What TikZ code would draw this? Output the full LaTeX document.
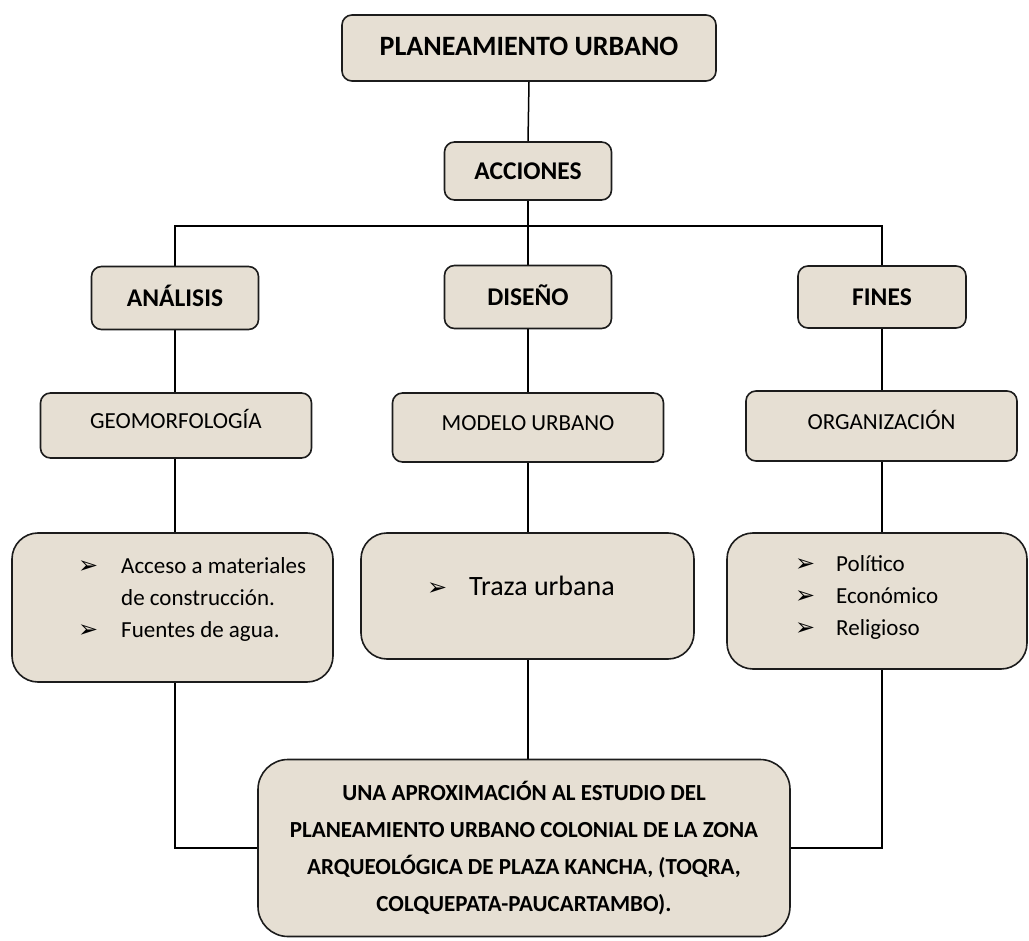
\documentclass[tikz,border=0pt]{standalone}
\usepackage{fontspec}
\setmainfont{Carlito}
\newfontfamily\dejavu{DejaVu Sans}
\usetikzlibrary{backgrounds,calc}
\definecolor{boxfill}{RGB}{230,223,211}
\definecolor{boxedge}{RGB}{28,28,28}
\newcommand\barrow{{\dejavu\fontsize{24}{24}\selectfont ➢}}
\begin{document}
\begin{tikzpicture}[x=1pt,y=-1pt,
  box/.style={draw=boxedge, line width=1.6pt, fill=boxfill, rounded corners=10pt, inner sep=0pt, align=center},
  bigbox/.style={box, rounded corners=26pt},
  conn/.style={draw=black, line width=1.5pt},
  hdr/.style={font=\bfseries\fontsize{25.5}{29}\selectfont, text height=16.4pt, text depth=0pt},
  sub/.style={font=\fontsize{23}{27}\selectfont, text height=14.8pt, text depth=8pt},
  item/.style={anchor=base west, inner sep=0pt, font=\fontsize{23}{27}\selectfont},
  bul/.style={anchor=base west, inner sep=0pt}]
\useasboundingbox (0,0) rectangle (1029,941);
% boxes
\node[box, minimum width=374pt, minimum height=66pt, font=\bfseries\fontsize{28}{32}\selectfont, text height=18pt, text depth=2pt] (top) at (529,48) {PLANEAMIENTO URBANO};
\node[box, hdr, minimum width=167pt, minimum height=58pt] (acc) at (528,171) {ACCIONES};
\node[box, hdr, minimum width=167pt, minimum height=63pt] (ana) at (175,298) {ANÁLISIS};
\node[box, hdr, minimum width=167pt, minimum height=63pt] (dis) at (528,297) {DISEÑO};
\node[box, hdr, minimum width=168pt, minimum height=62pt] (fin) at (882,297) {FINES};
\node[box, sub, minimum width=271pt, minimum height=65pt] (geo) at (176,425.5) {GEOMORFOLOGÍA};
\node[box, sub, minimum width=271pt, minimum height=69pt] (mod) at (528,427.5) {MODELO URBANO};
\node[box, sub, minimum width=271pt, minimum height=70pt] (org) at (881.5,426) {ORGANIZACIÓN};
\node[bigbox, minimum width=321pt, minimum height=149pt] (b1) at (172.5,607.5) {};
\node[bigbox, minimum width=333pt, minimum height=126pt] (b2) at (527.5,596) {};
\node[bigbox, minimum width=300pt, minimum height=136pt] (b3) at (877,601) {};
\node[bigbox, rounded corners=30pt, minimum width=532pt, minimum height=177pt,
      font=\bfseries\fontsize{23}{37}\selectfont] (bot) at (524,848)
  {UNA APROXIMACIÓN AL ESTUDIO DEL\\PLANEAMIENTO URBANO COLONIAL DE LA ZONA\\ARQUEOLÓGICA DE PLAZA KANCHA, (TOQRA,\\COLQUEPATA-PAUCARTAMBO).};
% list texts
\node[bul] (b1a) at (78,573) {\barrow};
\node[item] (t1a) at (121,573) {Acceso a materiales};
\node[item] (t1b) at (121,605) {de construcción.};
\node[bul] (b1c) at (78,637) {\barrow};
\node[item] (t1c) at (121,637) {Fuentes de agua.};
\node[bul] (b2a) at (427,595) {\barrow};
\node[item, font=\fontsize{28}{32}\selectfont] (t2a) at (469,595) {Traza urbana};
\node[bul] (b3a) at (795,571) {\barrow};
\node[item] (t3a) at (836,571) {Político};
\node[bul] (b3b) at (795,603) {\barrow};
\node[item] (t3b) at (836,603) {Económico};
\node[bul] (b3c) at (795,635) {\barrow};
\node[item] (t3c) at (836,635) {Religioso};
% connectors
\begin{scope}[on background layer]
\coordinate (hub) at (528,226);
\draw[conn] (top.south) -- (acc.north);
\draw[conn] (acc.south) -- (hub);
\draw[conn] (ana.north) -- (ana.north |- hub) -- (fin.north |- hub) -- (fin.north);
\draw[conn] (hub) -- (dis.north);
\draw[conn] (ana.south) -- (ana.south |- geo.north);
\draw[conn] (ana.south |- geo.south) -- (ana.south |- b1.north);
\draw[conn] (ana.south |- b1.south) |- (bot.west);
\draw[conn] (dis.south) -- (mod.north -| dis.south);
\draw[conn] (dis.south |- mod.south) -- (dis.south |- b2.north);
\draw[conn] (dis.south |- b2.south) -- (dis.south |- bot.north);
\draw[conn] (fin.south) -- (fin.south |- org.north);
\draw[conn] (fin.south |- org.south) -- (fin.south |- b3.north);
\draw[conn] (fin.south |- b3.south) |- (bot.east);
\end{scope}
\end{tikzpicture}
\end{document}
